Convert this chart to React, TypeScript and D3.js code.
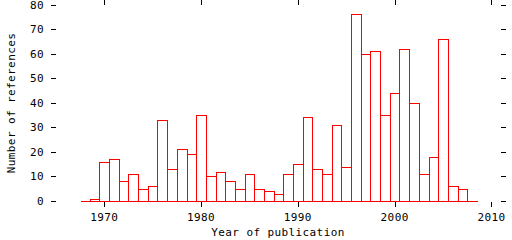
import React from "react";
import * as d3 from "d3";

const years = [1968,1969,1970,1971,1972,1973,1974,1975,1976,1977,1978,1979,1980,1981,1982,1983,1984,1985,1986,1987,1988,1989,1990,1991,1992,1993,1994,1995,1996,1997,1998,1999,2000,2001,2002,2003,2004,2005,2006,2007,2008];
const counts = [0,1,16,17,8,11,5,6,33,13,21,19,35,10,12,8,5,11,5,4,3,11,15,34,13,11,31,14,76,60,61,35,44,62,40,11,18,66,6,5,0];
const xTicks = [1970, 1980, 1990, 2000, 2010];
const yTicks = [0, 10, 20, 30, 40, 50, 60, 70, 80];
const xTitle = "Year of publication";
const yTitle = "Number of references";

const W = 512, H = 240;
const FONT = "'DejaVu Sans Mono', monospace";

export default function App() {
  const x = d3.scaleLinear().domain([1964.5, 2011.4]).range([51, 505]);
  const y = d3.scaleLinear().domain([0, 80]).range([201, 4.5]);
  const px = (v: number) => Math.round(v) + 0.5;
  const textStyle: React.CSSProperties = { fontFamily: FONT, fontSize: 11, letterSpacing: 0.4 };
  const yb = px(y(0));
  return (
    <svg width={W} height={H} style={{ position: "absolute", left: 0, top: 0, background: "#fff" }}>
      <g stroke="#000" strokeWidth={1} shapeRendering="crispEdges">
        {yTicks.map((t) => (
          <g key={"y" + t}>
            <line x1={51} x2={56} y1={px(y(t))} y2={px(y(t))} />
            <line x1={501} x2={506} y1={px(y(t))} y2={px(y(t))} />
          </g>
        ))}
        {xTicks.map((t) => (
          <g key={"x" + t}>
            <line x1={px(x(t))} x2={px(x(t))} y1={202} y2={207} />
            <line x1={px(x(t))} x2={px(x(t))} y1={0} y2={5} />
          </g>
        ))}
      </g>
      <g fill="none" stroke="#ff0000" strokeWidth={1} shapeRendering="crispEdges">
        <line
          x1={px(x(years[0] - 0.5))}
          x2={px(x(years[years.length - 1] + 0.5))}
          y1={yb}
          y2={yb}
        />
        {years.map((yr, i) => {
          if (counts[i] === 0) return null;
          const x0 = px(x(yr - 0.5));
          const x1 = px(x(yr + 0.5));
          const y0 = px(y(counts[i]));
          return <rect key={yr} x={x0} y={y0} width={x1 - x0} height={yb - y0} />;
        })}
      </g>
      <g style={textStyle} fill="#000">
        {yTicks.map((t) => (
          <text key={"yl" + t} x={44} y={y(t) + 4} textAnchor="end">{t}</text>
        ))}
        {xTicks.map((t) => (
          <text key={"xl" + t} x={x(t)} y={221} textAnchor="middle">{t}</text>
        ))}
        <text x={278} y={236} textAnchor="middle">{xTitle}</text>
        <text transform="translate(15,103) rotate(-90)" textAnchor="middle">{yTitle}</text>
      </g>
    </svg>
  );
}
